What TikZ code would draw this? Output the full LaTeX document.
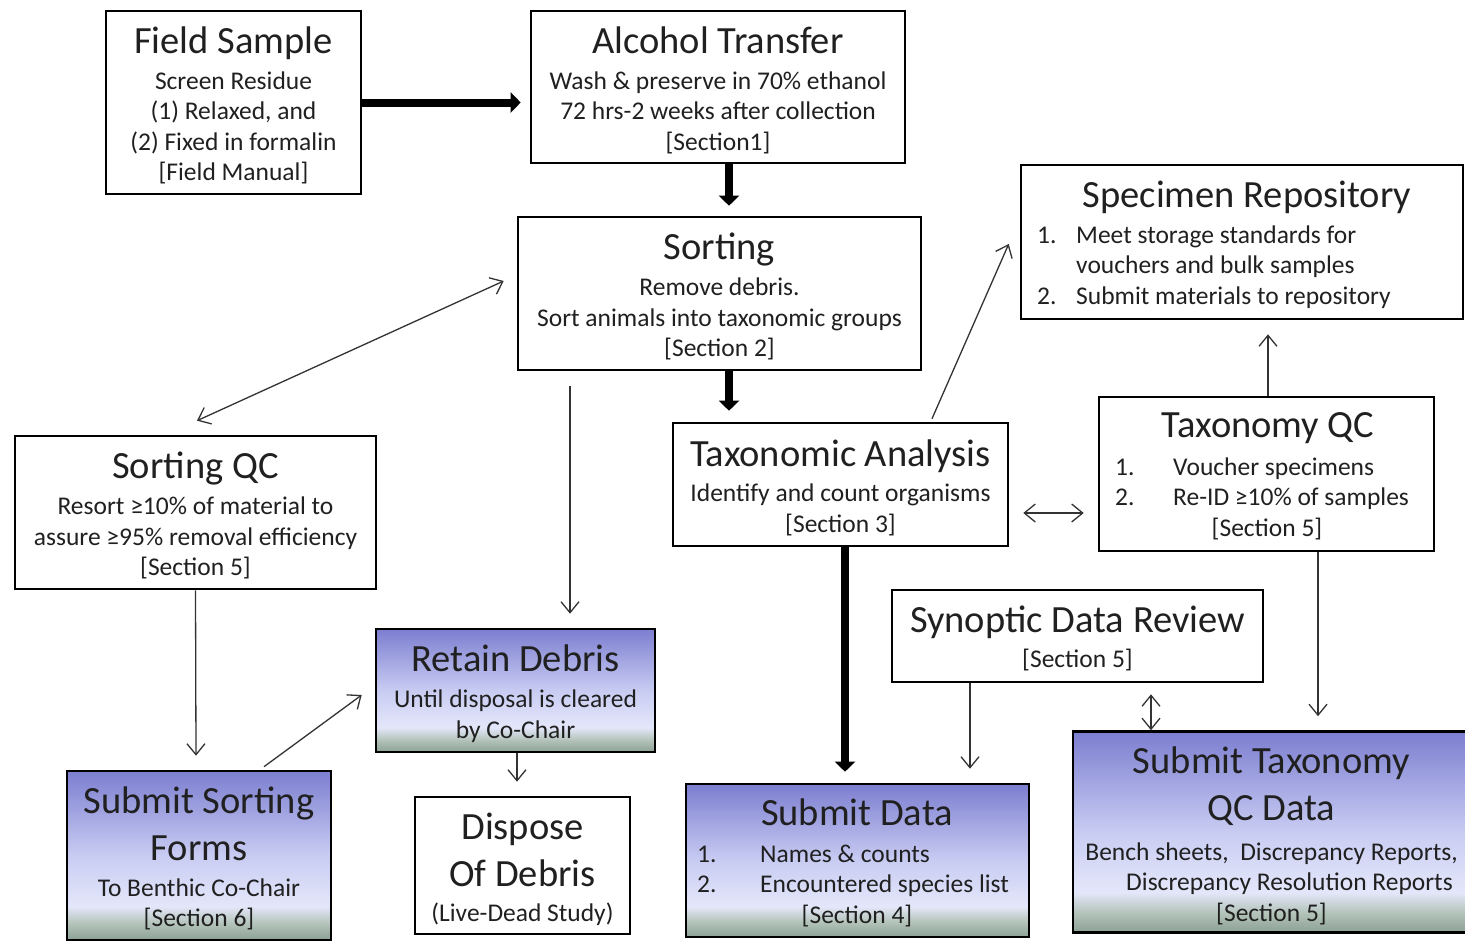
\documentclass[tikz,border=0pt]{standalone}
\usepackage{fontspec}
\setmainfont{Carlito}
\usetikzlibrary{arrows.meta}
\definecolor{txt}{HTML}{202020}
\definecolor{gT}{RGB}{124,126,208}
\definecolor{gM}{RGB}{200,204,242}
\definecolor{gL}{RGB}{228,231,250}
\definecolor{gG}{RGB}{180,196,186}
\definecolor{gB}{RGB}{140,160,150}
\pgfdeclareverticalshading{gshade}{100bp}{color(0bp)=(gB); color(25bp)=(gB); color(30bp)=(gG); color(35bp)=(gL); color(50bp)=(gM); color(75bp)=(gT); color(100bp)=(gT)}
\newcommand\mytitle{\fontsize{38.5}{44}\selectfont}
\newcommand\mysubt{\fontsize{25.5}{30.5}\selectfont}
\newcommand\mysub{\mysubt\lineskiplimit=-1000pt\relax}
\begin{document}
\begin{tikzpicture}[x=1pt,y=-1pt,
  frame/.style={draw=black, line width=2.6pt, inner sep=0pt, fill=white},
  gbox/.style={draw=black, line width=2.6pt, inner sep=0pt, shade, shading=gshade},
  tn/.style={align=center, inner sep=0pt, text=txt, font=\mysub},
  tl/.style={inner sep=0pt, text=txt, font=\mysubt},
  thickarr/.style={line width=8pt, -{Triangle[length=10pt,width=20pt]}},
  thinl/.style={line width=1.3pt, draw=black!80},
  >={Straight Barb[length=11pt,width=18pt]}]
\useasboundingbox (0,0) rectangle (1465,942);
\fill[white] (0,0) rectangle (1465,942);

% boxes
\node[frame, minimum width=255pt, minimum height=183pt] (fs) at (233.5,102.5) {};
\node[frame, minimum width=374pt, minimum height=152pt] (at) at (718,87) {};
\node[frame, minimum width=403pt, minimum height=153pt] (so) at (719.5,293.5) {};
\node[frame, minimum width=442pt, minimum height=154pt] (sr) at (1242,242) {};
\node[frame, minimum width=361pt, minimum height=153pt] (sqc) at (195.5,512.5) {};
\node[frame, minimum width=335pt, minimum height=123pt] (ta) at (840.5,484.5) {};
\node[frame, minimum width=335pt, minimum height=154pt] (tqc) at (1266.5,474) {};
\node[frame, minimum width=371pt, minimum height=92pt] (sdr) at (1077.5,636) {};
\node[gbox, minimum width=279pt, minimum height=123pt] (rd) at (515.5,690.5) {};
\node[gbox, minimum width=264pt, minimum height=169pt] (ssf) at (199,855.5) {};
\node[frame, minimum width=215pt, minimum height=137pt] (dd) at (522.5,865.5) {};
\node[gbox, minimum width=343pt, minimum height=153pt] (sd) at (857.5,860.5) {};
\node[gbox, minimum width=397pt, minimum height=201pt] (stq) at (1271.5,832) {};

% texts
\node[tn] (fsT) at (233.5,105.5) {{\mytitle Field Sample}\\[5.5pt]Screen Residue\\(1) Relaxed, and\\(2) Fixed in formalin\\{[Field Manual]}};
\node[tn] (atT) at (718,90) {{\mytitle Alcohol Transfer}\\[5.5pt]Wash \& preserve in 70\% ethanol\\72 hrs-2 weeks after collection\\{[Section1]}};
\node[tn] (soT) at (719.5,296.5) {{\mytitle Sorting}\\[6pt]Remove debris.\\Sort animals into taxonomic groups\\{[Section 2]}};
\node[tn] (sqcT) at (195.5,515.5) {{\mytitle Sorting QC}\\[5.5pt]Resort ≥10\% of material to\\assure ≥95\% removal efficiency\\{[Section 5]}};
\node[tn] (taT) at (840.5,487.5) {{\mytitle Taxonomic Analysis}\\[5pt]Identify and count organisms\\{[Section 3]}};
\node[tn] (sdrT) at (1077.5,638.5) {{\mytitle Synoptic Data Review}\\[4.5pt]{[Section 5]}};
\node[tn] (rdT) at (515.5,693.5) {{\mytitle Retain Debris}\\[6pt]Until disposal is cleared\\by Co-Chair};
\node[tn] (ssfT) at (199,858.5) {{\mytitle Submit Sorting}\\[16.5pt]{\mytitle Forms}\\[5.5pt]To Benthic Co-Chair\\{[Section 6]}};
\node[tn] (ddT) at (522.5,869.5) {{\mytitle Dispose}\\[16.5pt]{\mytitle Of Debris}\\[4.5pt](Live-Dead Study)};
\node[tn] (stqT) at (1271.5,835.5) {{\mytitle Submit Taxonomy}\\[16.5pt]{\mytitle QC Data}\\[9.5pt]Bench sheets,\ \ Discrepancy Reports,\\\hspace*{36pt}Discrepancy Resolution Reports\\{[Section 5]}};

\node[tl, anchor=base] (srT) at (1247,207) {\mytitle Specimen Repository};
\node[tl, anchor=base west] (srL) at (1037,243) {\begin{tabular}[t]{@{}p{39pt}@{}l@{}}1.&Meet storage standards for\\&vouchers and bulk samples\\2.&Submit materials to repository\end{tabular}};
\node[tl, anchor=base] (tqcT) at (1268,437) {\mytitle Taxonomy QC};
\node[tl, anchor=base west] (tqcL) at (1115,475) {\begin{tabular}[t]{@{}p{58pt}@{}l@{}}1.&Voucher specimens\\2.&Re-ID ≥10\% of samples\end{tabular}};
\node[tl, anchor=base] (tqcS) at (1267,536) {[Section 5]};
\node[tl, anchor=base] (sdT) at (857,825) {\mytitle Submit Data};
\node[tl, anchor=base west] (sdL) at (697,862) {\begin{tabular}[t]{@{}p{63pt}@{}l@{}}1.&Names \& counts\\2.&Encountered species list\end{tabular}};
\node[tl, anchor=base] (sdS) at (857,923) {[Section 4]};

% thick arrows
\draw[thickarr, shorten >=9pt] (fs.east) -- (fs.east -| at.west);
\draw[thickarr] ([xshift=11pt]at.south) -- ([xshift=9.5pt,yshift=10pt]so.north);
\draw[thickarr] ([xshift=9.5pt]so.south) -- ([xshift=-111.5pt,yshift=11pt]ta.north);
\draw[thickarr] ([xshift=4.5pt]ta.south) -- ([xshift=-12.5pt,yshift=11pt]sd.north);

% thin arrows
\draw[thinl, <->] ([xshift=1.5pt,yshift=14pt]sqc.north) -- ([xshift=-13pt,yshift=12.5pt]so.west);
\draw[thinl, ->] ([xshift=-149.5pt,yshift=-15pt]so.south) -- ([xshift=54.5pt,yshift=14pt]rd.north);
\draw[thinl, ->] (sqc.south) -- ([xshift=-3pt,yshift=14pt]ssf.north);
\draw[thinl, ->] ([xshift=65pt,yshift=3pt]ssf.north) -- ([xshift=-13pt,yshift=-4.5pt]rd.west);
\draw[thinl, ->] ([xshift=1.5pt]rd.south) -- ([xshift=-5.5pt,yshift=14pt]dd.north);
\draw[thinl, ->] ([xshift=91.5pt,yshift=3pt]ta.north) -- ([xshift=-11pt,yshift=-2pt]sr.west);
\draw[thinl, <->] ([xshift=14pt,yshift=-28.5pt]ta.east) -- ([xshift=-14pt,yshift=-39pt]tqc.west);
\draw[thinl, ->] ([xshift=1.5pt]tqc.north) -- ([xshift=26pt,yshift=-14pt]sr.south);
\draw[thinl, ->] ([xshift=51.5pt]tqc.south) -- ([xshift=46.5pt,yshift=14pt]stq.north);
\draw[thinl, ->] ([xshift=-107.5pt]sdr.south) -- ([xshift=112.5pt,yshift=14pt]sd.north);
\draw[thinl, <->] ([xshift=73.5pt,yshift=-11pt]sdr.south) -- ([xshift=-120.5pt]stq.north);
\end{tikzpicture}
\end{document}
